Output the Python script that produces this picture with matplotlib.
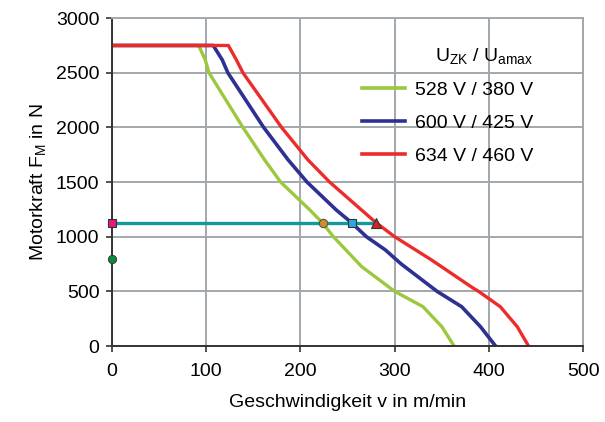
import numpy as np
import matplotlib.pyplot as plt

plt.rcParams['font.family'] = ['Liberation Sans', 'DejaVu Sans']
plt.rcParams['mathtext.default'] = 'regular'

# force-speed curves (v in m/min, F in N)
v_528 = [0, 92, 99, 103, 139, 162, 179, 210, 223, 235, 265, 300, 330, 350, 363]
f_528 = [2750, 2750, 2619, 2500, 2000, 1703, 1500, 1245, 1130, 1000, 726, 500, 360, 177, 0]
v_600 = [0, 107.5, 117, 123, 161, 187, 207, 238, 254, 270, 290, 307, 345, 371, 391, 407]
f_600 = [2750, 2750, 2619, 2500, 2000, 1703, 1500, 1245, 1130, 1000, 880, 750, 500, 360, 177, 0]
v_634 = [0, 123.5, 132, 139, 180, 208, 231, 280, 300, 339, 382, 389, 412, 430, 442]
f_634 = [2750, 2750, 2619, 2500, 2000, 1703, 1500, 1130, 1000, 788, 537, 500, 360, 177, 0]
labels = ['528 V / 380 V', '600 V / 425 V', '634 V / 460 V']

# operating point line and markers
f_op = 1130
v_op_end = 280
v_markers = [0, 224, 255, 280]
f_green_dot = 800

fig = plt.figure(figsize=(6.05, 4.22), dpi=100)
ax = fig.add_axes([0.185, 0.18, 0.779, 0.777])

grid_c = '#a3a8ad'
ax.grid(True, color=grid_c, linewidth=1.4)
ax.set_axisbelow(True)

ax.plot(v_528, f_528, color='#9bc83c', lw=2.4, label=labels[0])
ax.plot(v_600, f_600, color='#2e3192', lw=2.6, label=labels[1])
ax.plot(v_634, f_634, color='#ee2b2b', lw=2.4, label=labels[2])

ax.plot([0, v_op_end], [f_op, f_op], color='#12999a', lw=2.4, zorder=4)
ax.plot(v_markers[0], f_op, 's', ms=6, mfc='#e5197e', mec='#333333', mew=0.8, clip_on=False, zorder=5)
ax.plot(v_markers[1], f_op, 'o', ms=6, mfc='#d28e22', mec='#555555', mew=0.8, zorder=5)
ax.plot(v_markers[2], f_op, 's', ms=6, mfc='#2aa8e0', mec='#333333', mew=0.8, zorder=5)
ax.plot(v_markers[3], f_op, '^', ms=7, mfc='#d2232a', mec='#333333', mew=0.8, zorder=5)
ax.plot(0, f_green_dot, 'o', ms=6, mfc='#0b8a3c', mec='#333333', mew=0.6, clip_on=False, zorder=5)

ax.set_xlim(0, 500)
ax.set_ylim(0, 3000)
ax.set_xticks(np.arange(0, 501, 100))
ax.set_yticks(np.arange(0, 3001, 500))
ax.tick_params(labelsize=14, length=4, width=1.2, color='#333333', direction='out', pad=5)
ax.tick_params(axis='x', pad=8)

for s in ['left', 'bottom']:
    ax.spines[s].set_color('#333333')
    ax.spines[s].set_linewidth(1.4)
for s in ['top', 'right']:
    ax.spines[s].set_color(grid_c)
    ax.spines[s].set_linewidth(1.4)

ax.set_xlabel('Geschwindigkeit v in m/min', fontsize=14, labelpad=10)
ax.set_ylabel('Motorkraft F$_M$ in N', fontsize=14, labelpad=6)

leg = ax.legend(title='U$_{ZK}$ / U$_{amax}$', loc='upper right', bbox_to_anchor=(0.91, 0.94),
                frameon=False, fontsize=14, title_fontsize=14, handlelength=2.2,
                labelspacing=0.8, handletextpad=0.5, borderaxespad=0, alignment='right')
for line in leg.get_lines():
    line.set_linewidth(2.6)

fig.savefig('out.png', dpi=100)
